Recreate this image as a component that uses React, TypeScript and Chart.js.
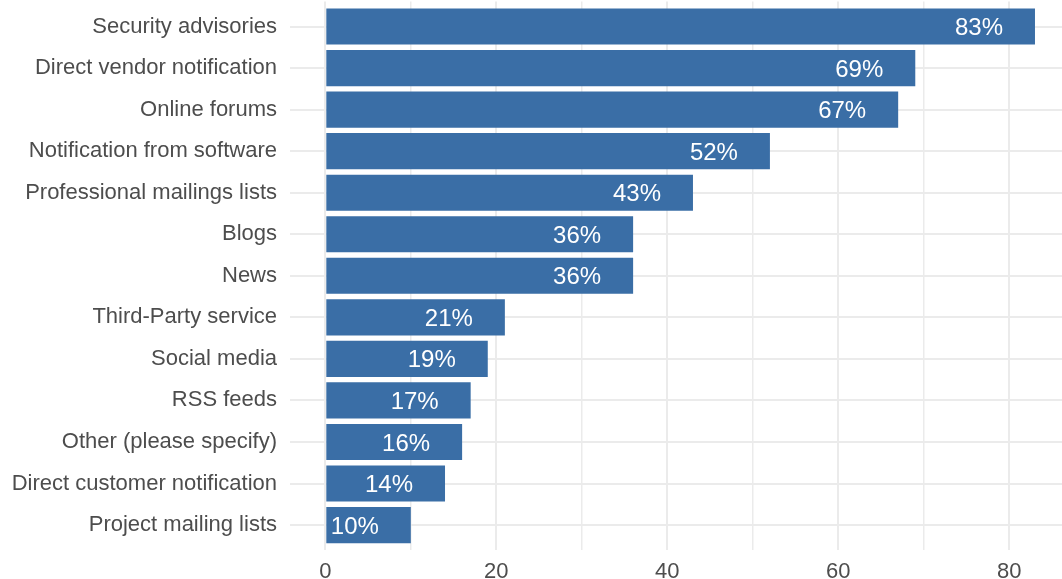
import React, { useEffect, useRef } from 'react';
import { Chart, registerables } from 'chart.js';

Chart.register(...registerables);

const categories = [
  'Security advisories',
  'Direct vendor notification',
  'Online forums',
  'Notification from software',
  'Professional mailings lists',
  'Blogs',
  'News',
  'Third-Party service',
  'Social media',
  'RSS feeds',
  'Other (please specify)',
  'Direct customer notification',
  'Project mailing lists',
];
const percentages = [83, 69, 67, 52, 43, 36, 36, 21, 19, 17, 16, 14, 10];
const valueLabels = percentages.map((v) => `${v}%`);
const xGridValues = [0, 10, 20, 30, 40, 50, 60, 70, 80];
const xLabelValues = [0, 20, 40, 60, 80];

const BAR_COLOR = '#3a6ea6';
const GRID_COLOR = '#ebebeb';
const TEXT_COLOR = '#4d4d4d';
const FONT = "'Liberation Sans', Arial, Helvetica, sans-serif";

const valueLabelPlugin = {
  id: 'valueLabels',
  afterDatasetsDraw(chart: any) {
    const meta = chart.getDatasetMeta(0);
    const ctx = chart.ctx;
    ctx.save();
    ctx.font = `24px ${FONT}`;
    ctx.fillStyle = '#ffffff';
    ctx.textAlign = 'right';
    ctx.textBaseline = 'alphabetic';
    meta.data.forEach((el: any, i: number) => {
      ctx.fillText(valueLabels[i], el.x - 32, el.y + 8.6);
    });
    ctx.restore();
  },
};

export default function App() {
  const canvasRef = useRef<HTMLCanvasElement | null>(null);

  useEffect(() => {
    document.body.style.margin = '0';
    const canvas = canvasRef.current;
    if (!canvas) return;
    const chart = new Chart(canvas, {
      type: 'bar',
      data: {
        datasets: [
          {
            data: percentages.map((v, i) => ({ x: v, y: i })),
            backgroundColor: BAR_COLOR,
            borderWidth: 0,
            barPercentage: 0.87,
            categoryPercentage: 1,
          },
        ],
      },
      options: {
        indexAxis: 'y',
        responsive: false,
        animation: false,
        layout: { padding: { top: 1.6, left: 0, right: 0, bottom: 0 } },
        plugins: {
          legend: { display: false },
          tooltip: { enabled: false },
        },
        scales: {
          x: {
            type: 'linear',
            position: 'bottom',
            offset: false,
            min: -4.13,
            max: 86.16,
            afterBuildTicks: (scale: any) => {
              scale.ticks = xGridValues.map((v) => ({ value: v }));
            },
            afterFit: (scale: any) => {
              scale.height = 29;
              scale.paddingLeft = 0;
              scale.paddingRight = 0;
            },
            grid: {
              offset: false,
              color: GRID_COLOR,
              lineWidth: (c: any) => (c.tick && c.tick.value % 20 === 0 ? 2 : 1.5),
              drawTicks: false,
            },
            border: { display: false },
            ticks: {
              padding: 9,
              color: TEXT_COLOR,
              font: { family: FONT, size: 22 },
              maxRotation: 0,
              autoSkip: false,
              callback: (value: any) => (xLabelValues.includes(Number(value)) ? String(value) : ''),
            },
          },
          y: {
            type: 'linear',
            position: 'left',
            reverse: true,
            offset: false,
            min: -0.6,
            max: 12.6,
            afterBuildTicks: (scale: any) => {
              scale.ticks = categories.map((_, i) => ({ value: i }));
            },
            afterFit: (scale: any) => {
              scale.width = 290;
              scale.paddingTop = 0;
              scale.paddingBottom = 0;
            },
            grid: {
              offset: false,
              color: GRID_COLOR,
              lineWidth: 2,
              drawTicks: false,
            },
            border: { display: false },
            ticks: {
              padding: 13,
              color: TEXT_COLOR,
              font: { family: FONT, size: 22 },
              autoSkip: false,
              callback: (value: any) => categories[Number(value)] ?? '',
            },
          },
        },
      },
      plugins: [valueLabelPlugin],
    } as any);
    return () => chart.destroy();
  }, []);

  return (
    <div style={{ position: 'absolute', left: 0, top: 0, width: 1062, height: 579 }}>
      <canvas ref={canvasRef} width={1062} height={579} style={{ display: 'block' }} />
    </div>
  );
}
